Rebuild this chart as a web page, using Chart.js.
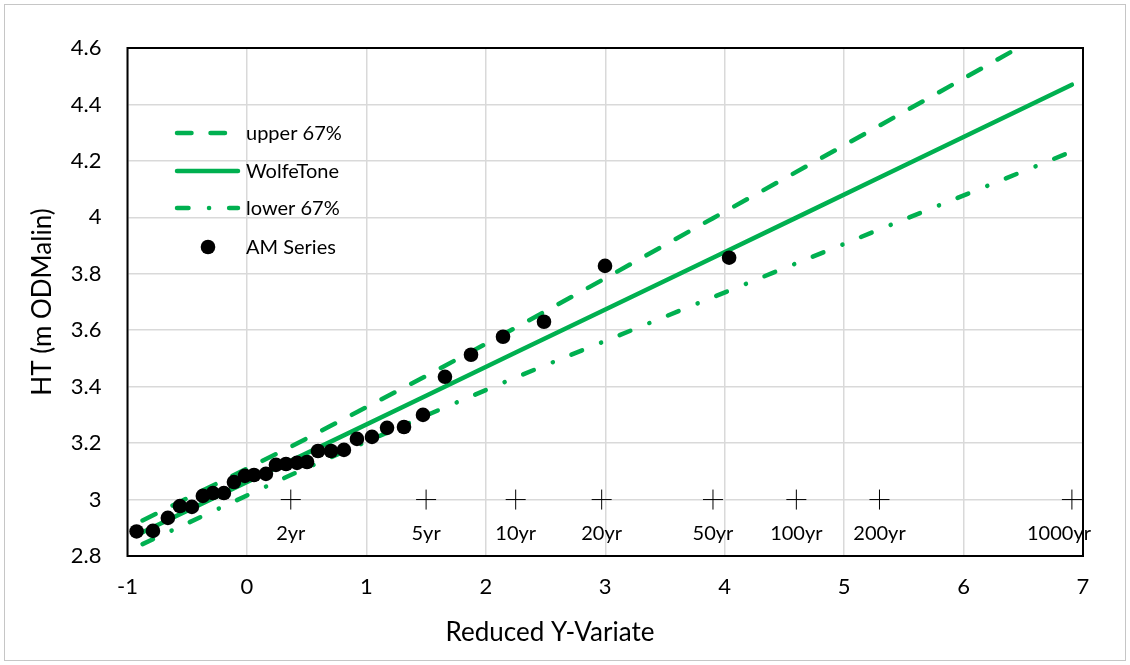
<!DOCTYPE html>
<html>
<head>
<meta charset="utf-8">
<script src="https://cdn.jsdelivr.net/npm/chart.js@4.4.1/dist/chart.umd.min.js"></script>
<style>
  html, body { margin: 0; padding: 0; background: #fff; }
  #wrap { width: 1130px; height: 665px; position: relative; }
</style>
</head>
<body>
<div id="wrap"><canvas id="chart"></canvas></div>
<script>
// annual maxima, reduced variate vs height
const amX = [-0.924, -0.787, -0.662, -0.561, -0.461, -0.369, -0.285, -0.193, -0.109, -0.017,
             0.059, 0.159, 0.243, 0.327, 0.419, 0.503, 0.595, 0.704, 0.812, 0.921,
             1.047, 1.173, 1.315, 1.474, 1.658, 1.876, 2.144, 2.487, 2.998, 4.037];
const amY = [2.887, 2.889, 2.935, 2.977, 2.974, 3.013, 3.023, 3.023, 3.062, 3.084,
             3.087, 3.091, 3.123, 3.126, 3.130, 3.133, 3.172, 3.172, 3.176, 3.215,
             3.222, 3.254, 3.257, 3.300, 3.435, 3.513, 3.577, 3.630, 3.828, 3.857];

// fitted line + 67% band, at T = 1.1, 2, 5, 10, 20, 50, 100, 200, 1000
const fitX      = [-0.874, 0.367, 1.500, 2.250, 2.970, 3.902, 4.600, 5.296, 6.907];
const wolfeTone = [2.884, 3.137, 3.368, 3.521, 3.667, 3.857, 3.999, 4.141, 4.470];
const upper67   = [2.926, 3.187, 3.438, 3.609, 3.777, 3.997, 4.161, 4.325, 4.707];
const lower67   = [2.842, 3.087, 3.298, 3.433, 3.557, 3.717, 3.837, 3.957, 4.233];

// return period markers
const periodLabels = ['2yr', '5yr', '10yr', '20yr', '50yr', '100yr', '200yr', '1000yr'];
const periodX      = [0.367, 1.500, 2.250, 2.970, 3.902, 4.600, 5.296, 6.907];
const periodY      = [3, 3, 3, 3, 3, 3, 3, 3];

const yTicks = [2.8, 3, 3.2, 3.4, 3.6, 3.8, 4, 4.2, 4.4, 4.6];

const GREEN = '#00b050';
const FONT  = 'Lato';

const pts = (xs, ys) => xs.map((x, i) => ({ x, y: ys[i] }));

const framePlugin = {
  id: 'frame',
  beforeDraw(chart) {
    const ctx = chart.ctx;
    ctx.save();
    ctx.strokeStyle = '#c6c6c6';
    ctx.lineWidth = 1;
    ctx.strokeRect(4.5, 4.5, chart.width - 9, chart.height - 9);
    ctx.restore();
  },
  beforeDatasetsDraw(chart) {
    const { ctx, chartArea: a } = chart;
    ctx.save();
    ctx.strokeStyle = '#000';
    ctx.lineWidth = 2;
    ctx.strokeRect(a.left, a.top, a.right - a.left, a.bottom - a.top);
    ctx.restore();
  },
  afterDatasetsDraw(chart) {
    const ctx = chart.ctx;
    const xs = chart.scales.x, ys = chart.scales.y;
    ctx.save();
    ctx.font = `20px ${FONT}`;
    ctx.fillStyle = '#000';
    ctx.textAlign = 'center';
    ctx.textBaseline = 'middle';
    periodLabels.forEach((lab, i) => {
      let px = xs.getPixelForValue(periodX[i]);
      const w = ctx.measureText(lab).width;
      px = Math.min(px, chart.chartArea.right + 8 - w / 2);
      ctx.fillText(lab, px, ys.getPixelForValue(periodY[i]) + 34);
    });
    ctx.restore();
  },
  afterDraw(chart) {
    const ctx = chart.ctx;
    ctx.save();
    // x axis title
    ctx.font = `26px ${FONT}`;
    ctx.fillStyle = '#000';
    ctx.textAlign = 'center';
    ctx.textBaseline = 'middle';
    ctx.fillText('Reduced Y-Variate', 550, 633);

    // legend
    const rows = [133, 171, 208, 247];
    ctx.font = `20px ${FONT}`;
    ctx.textAlign = 'left';
    [0, 1, 2, 3].forEach((di, r) => {
      const ds = chart.data.datasets[di];
      const y = rows[r];
      if (ds.showLine) {
        ctx.strokeStyle = ds.borderColor;
        ctx.lineWidth = ds.borderWidth;
        ctx.lineCap = 'round';
        ctx.setLineDash(ds.borderDash || []);
        ctx.beginPath();
        ctx.moveTo(177, y);
        ctx.lineTo(238, y);
        ctx.stroke();
        ctx.setLineDash([]);
      } else {
        ctx.fillStyle = ds.backgroundColor;
        ctx.beginPath();
        ctx.arc(208, y, ds.pointRadius, 0, Math.PI * 2);
        ctx.fill();
      }
      ctx.fillStyle = '#000';
      ctx.fillText(ds.label, 246, y + 1);
    });
    ctx.restore();
  },
};

new Chart(document.getElementById('chart'), {
  type: 'scatter',
  data: {
    datasets: [
      {
        label: 'upper 67%', data: pts(fitX, upper67), showLine: true,
        borderColor: GREEN, borderWidth: 4.5, borderDash: [14.5, 19], borderCapStyle: 'round',
        pointRadius: 0, order: 3,
      },
      {
        label: 'WolfeTone', data: pts(fitX, wolfeTone), showLine: true,
        borderColor: GREEN, borderWidth: 4.5, borderCapStyle: 'round',
        pointRadius: 0, order: 2,
      },
      {
        label: 'lower 67%', data: pts(fitX, lower67), showLine: true,
        borderColor: GREEN, borderWidth: 4.5, borderDash: [11.5, 20.5, 0.1, 20], borderCapStyle: 'round',
        pointRadius: 0, order: 4,
      },
      {
        label: 'AM Series', data: pts(amX, amY), showLine: false,
        backgroundColor: '#000', borderColor: '#000', borderWidth: 0,
        pointRadius: 7.3, order: 0,
      },
      {
        label: 'Return period', data: pts(periodX, periodY), showLine: false,
        pointStyle: 'cross', pointRadius: 10, borderColor: '#000', borderWidth: 1,
        order: 1,
      },
    ],
  },
  plugins: [framePlugin],
  options: {
    responsive: true,
    maintainAspectRatio: false,
    animation: false,
    events: [],
    layout: { padding: { left: 0, top: 48, right: 47, bottom: 0 } },
    plugins: {
      legend: { display: false },
      tooltip: { enabled: false },
    },
    scales: {
      x: {
        type: 'linear', min: -1, max: 7,
        afterFit: s => { s.height = 109; },
        ticks: { stepSize: 1, padding: 18, color: '#000', font: { family: FONT, size: 22 } },
        grid: { color: '#d9d9d9', lineWidth: 1.5, drawTicks: false },
        border: { display: false },
      },
      y: {
        type: 'linear', min: 2.8, max: 4.6,
        afterFit: s => { s.width = 127.5; },
        afterBuildTicks: s => { s.ticks = yTicks.map(v => ({ value: v })); },
        ticks: {
          padding: 26, color: '#000', font: { family: FONT, size: 22 },
          callback: v => String(+v.toFixed(1)),
        },
        grid: { color: '#d9d9d9', lineWidth: 1.5, drawTicks: false },
        border: { display: false },
        title: {
          display: true, text: 'HT (m ODMalin)', color: '#000',
          font: { family: FONT, size: 26 }, padding: { top: 27, bottom: 0 },
        },
      },
    },
  },
});
</script>
</body>
</html>
